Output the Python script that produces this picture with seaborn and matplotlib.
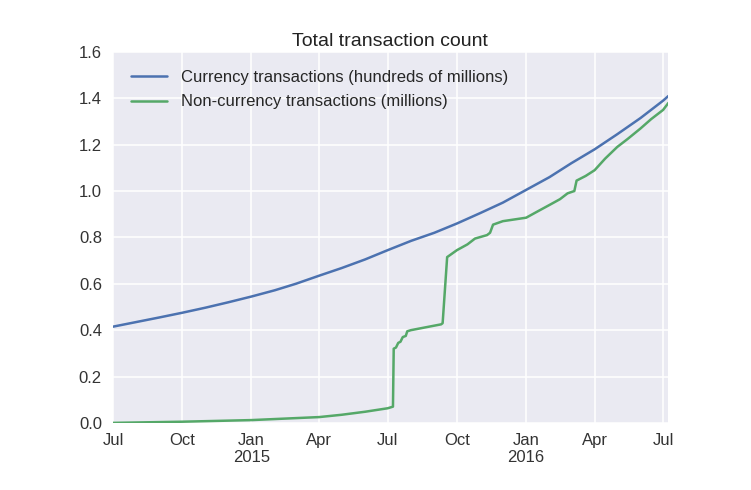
import matplotlib
matplotlib.use("Agg")
import matplotlib.pyplot as plt
import seaborn as sns
import pandas as pd
import numpy as np

# ---- data ----
currency_dates = ["2014-07-01", "2014-08-01", "2014-09-01", "2014-10-01", "2014-11-01",
                  "2014-12-01", "2015-01-01", "2015-02-01", "2015-03-01", "2015-04-01",
                  "2015-05-01", "2015-06-01", "2015-07-01", "2015-08-01", "2015-09-01",
                  "2015-10-01", "2015-11-01", "2015-12-01", "2016-01-01", "2016-02-01",
                  "2016-03-01", "2016-04-01", "2016-05-01", "2016-06-01", "2016-07-01",
                  "2016-07-08"]
currency_values = [0.415, 0.435, 0.455, 0.475, 0.497, 0.520, 0.545, 0.572, 0.600, 0.635,
                   0.668, 0.705, 0.745, 0.785, 0.820, 0.860, 0.905, 0.950, 1.005, 1.060,
                   1.120, 1.180, 1.245, 1.315, 1.390, 1.410]

noncurrency_dates = ["2014-07-01", "2014-10-01", "2015-01-01", "2015-04-01", "2015-05-01",
                     "2015-06-01", "2015-07-01", "2015-07-08", "2015-07-09", "2015-07-12",
                     "2015-07-15", "2015-07-18", "2015-07-21", "2015-07-25", "2015-07-27",
                     "2015-08-01", "2015-09-10", "2015-09-12", "2015-09-18", "2015-10-01",
                     "2015-10-15", "2015-10-25", "2015-11-10", "2015-11-14", "2015-11-18",
                     "2015-12-01", "2016-01-01", "2016-01-15", "2016-02-01", "2016-02-15",
                     "2016-02-25", "2016-03-05", "2016-03-08", "2016-03-20", "2016-04-01",
                     "2016-04-15", "2016-05-01", "2016-05-15", "2016-06-01", "2016-06-15",
                     "2016-07-01", "2016-07-08"]
noncurrency_values = [0.0, 0.005, 0.012, 0.025, 0.035,
                      0.048, 0.063, 0.07, 0.32, 0.325,
                      0.345, 0.35, 0.37, 0.375, 0.395,
                      0.40, 0.425, 0.43, 0.715, 0.745,
                      0.77, 0.795, 0.81, 0.82, 0.855,
                      0.87, 0.885, 0.91, 0.94, 0.965,
                      0.99, 1.00, 1.045, 1.065, 1.09,
                      1.14, 1.19, 1.225, 1.27, 1.31,
                      1.35, 1.38]

series_labels = ["Currency transactions (hundreds of millions)",
                 "Non-currency transactions (millions)"]
tick_dates = ["2014-07-01", "2014-10-01", "2015-01-01", "2015-04-01", "2015-07-01",
              "2015-10-01", "2016-01-01", "2016-04-01", "2016-07-01"]
tick_labels = ["Jul", "Oct", "Jan\n2015", "Apr", "Jul", "Oct", "Jan\n2016", "Apr", "Jul"]
y_ticks = [0.0, 0.2, 0.4, 0.6, 0.8, 1.0, 1.2, 1.4, 1.6]
title = "Total transaction count"

# ---- style ----
sns.set_theme(style="darkgrid")
plt.rcParams["font.family"] = ["Liberation Sans", "DejaVu Sans"]

fig = plt.figure(figsize=(7.51, 4.90), dpi=100)
ax = fig.add_axes([0.1505, 0.137, 0.7385, 0.757])

cur = pd.DataFrame({"date": pd.to_datetime(currency_dates), "value": currency_values})
non = pd.DataFrame({"date": pd.to_datetime(noncurrency_dates), "value": noncurrency_values})

sns.lineplot(data=cur, x="date", y="value", ax=ax, color="#4C72B0", linewidth=1.8,
             label=series_labels[0])
sns.lineplot(data=non, x="date", y="value", ax=ax, color="#55A868", linewidth=1.8,
             label=series_labels[1])

ax.set_xlim(pd.Timestamp("2014-07-01"), pd.Timestamp("2016-07-07"))
ax.set_ylim(0, 1.6)
ax.set_xticks(pd.to_datetime(tick_dates))
ax.set_xticklabels(tick_labels, fontsize=12, color="#333333")
ax.set_yticks(y_ticks)
ax.set_yticklabels([f"{v:.1f}" for v in y_ticks], fontsize=12, color="#333333")
ax.tick_params(axis="x", length=0, pad=7)
ax.tick_params(axis="y", length=0, pad=8)
ax.set_xlabel("")
ax.set_ylabel("")
ax.set_title(title, fontsize=14, color="#222222", pad=4)
ax.grid(True, color="white", linewidth=1.1)
for s in ax.spines.values():
    s.set_visible(False)

leg = ax.legend(loc="upper left", frameon=False, fontsize=12, handlelength=2.15,
                borderaxespad=0.7, labelspacing=0.55, handletextpad=0.8)

fig.savefig("out.png", dpi=100)
